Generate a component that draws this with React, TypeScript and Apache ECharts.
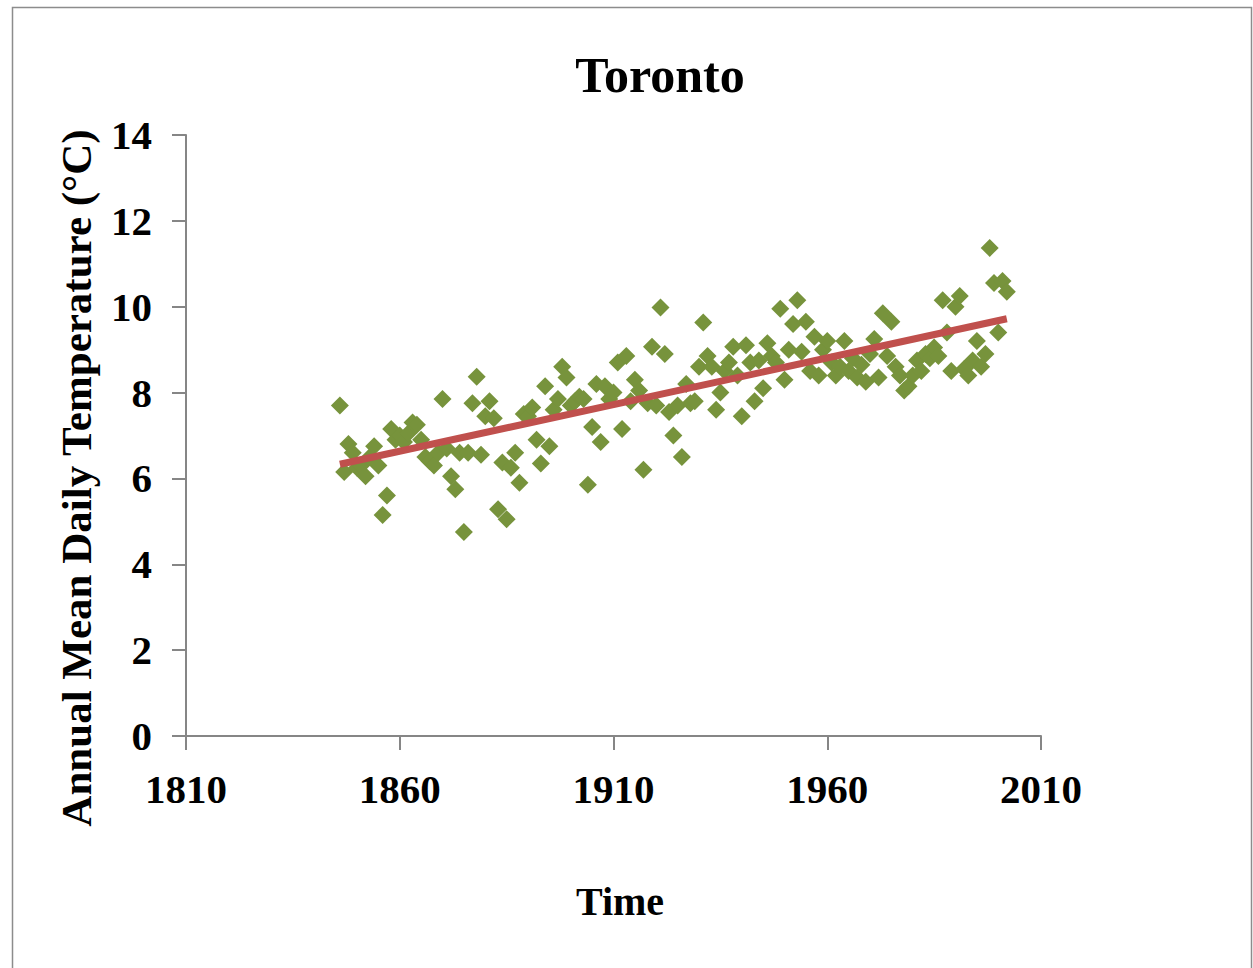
import React, { useEffect, useRef } from "react";
import * as echarts from "echarts";

const firstYear = 1846;
const temperatures: number[] = [
  // 1846-1855
  7.7, 6.15, 6.8, 6.6, 6.25, 6.3, 6.05, 6.5, 6.75, 6.3,
  // 1856-1865
  5.15, 5.6, 7.15, 6.9, 7.0, 6.85, 7.05, 7.3, 7.25, 6.9,
  // 1866-1875
  6.5, 6.4, 6.3, 6.6, 7.85, 6.7, 6.05, 5.75, 6.6, 4.75,
  // 1876-1885
  6.6, 7.75, 8.37, 6.55, 7.45, 7.8, 7.4, 5.28, 6.37, 5.05,
  // 1886-1895
  6.25, 6.6, 5.9, 7.5, 7.45, 7.65, 6.9, 6.35, 8.15, 6.75,
  // 1896-1905
  7.6, 7.85, 8.6, 8.35, 7.7, 7.8, 7.9, 7.85, 5.85, 7.2,
  // 1906-1915
  8.2, 6.85, 8.15, 7.85, 8.0, 8.7, 7.15, 8.85, 7.8, 8.3,
  // 1916-1925
  8.05, 6.2, 7.75, 9.07, 7.7, 9.98, 8.9, 7.55, 7.0, 7.7,
  // 1926-1935
  6.5, 8.2, 7.75, 7.8, 8.6, 9.63, 8.85, 8.6, 7.6, 8.0,
  // 1936-1945
  8.5, 8.7, 9.07, 8.4, 7.45, 9.1, 8.7, 7.8, 8.75, 8.1,
  // 1946-1955
  9.15, 8.85, 8.7, 9.95, 8.3, 9.0, 9.6, 10.15, 8.95, 9.65,
  // 1956-1965
  8.5, 9.3, 8.4, 9.0, 9.2, 8.7, 8.4, 8.6, 9.2, 8.5,
  // 1966-1975
  8.8, 8.35, 8.65, 8.25, 8.9, 9.25, 8.35, 9.85, 8.85, 9.65,
  // 1976-1985
  8.6, 8.4, 8.05, 8.15, 8.4, 8.75, 8.5, 8.9, 8.8, 9.05,
  // 1986-1995
  8.85, 10.15, 9.4, 8.5, 10.0, 10.25, 8.55, 8.4, 8.75, 9.2,
  // 1996-2002
  8.6, 8.9, 11.37, 10.55, 9.4, 10.6, 10.35,
];

const trendYears = [1846, 2002];
const trendValues = [6.33, 9.72];

const xTicks = [1810, 1860, 1910, 1960, 2010];
const yTicks = [0, 2, 4, 6, 8, 10, 12, 14];

const chartTitle = "Toronto";
const xAxisTitle = "Time";
const yAxisTitle = "Annual Mean Daily Temperature (°C)";

export default function App() {
  const ref = useRef<HTMLDivElement>(null);

  useEffect(() => {
    if (!ref.current) return;
    const chart = echarts.init(ref.current, undefined, { renderer: "svg" });
    const scatterData = temperatures.map((t, i) => [firstYear + i, t]);
    const trendData = trendYears.map((y, i) => [y, trendValues[i]]);
    const font = "'Liberation Serif', 'Times New Roman', serif";
    const axisColor = "#868686";

    chart.setOption({
      animation: false,
      backgroundColor: "#ffffff",
      textStyle: { fontFamily: font },
      graphic: [
        {
          type: "rect",
          shape: { x: 12.5, y: 7.5, width: 1239, height: 980 },
          style: { fill: "none", stroke: "#8c8c8c", lineWidth: 1.5 },
          silent: true,
        },
        {
          type: "text",
          x: 660,
          y: 75,
          style: {
            text: chartTitle,
            font: `bold 50px ${font}`,
            fill: "#000",
            textAlign: "center",
            textVerticalAlign: "middle",
          },
        },
        {
          type: "text",
          x: 620,
          y: 901,
          style: {
            text: xAxisTitle,
            font: `bold 40px ${font}`,
            fill: "#000",
            textAlign: "center",
            textVerticalAlign: "middle",
          },
        },
        {
          type: "text",
          x: 76,
          y: 478,
          rotation: Math.PI / 2,
          style: {
            text: yAxisTitle,
            font: `bold 43px ${font}`,
            fill: "#000",
            textAlign: "center",
            textVerticalAlign: "middle",
          },
        },
      ],
      grid: { left: 186, right: 212, top: 135, bottom: 232, containLabel: false },
      xAxis: {
        type: "value",
        min: xTicks[0],
        max: xTicks[xTicks.length - 1],
        interval: 50,
        axisLine: { show: true, lineStyle: { color: axisColor, width: 2 } },
        axisTick: { show: true, inside: false, length: 14, lineStyle: { color: axisColor, width: 2 } },
        splitLine: { show: false },
        axisLabel: {
          margin: 32,
          fontFamily: font,
          fontSize: 41,
          fontWeight: "bold",
          color: "#000",
          formatter: (v: number) => String(v),
        },
      },
      yAxis: {
        type: "value",
        min: yTicks[0],
        max: yTicks[yTicks.length - 1],
        interval: 2,
        axisLine: { show: true, lineStyle: { color: axisColor, width: 2 } },
        axisTick: { show: true, inside: false, length: 14, lineStyle: { color: axisColor, width: 2 } },
        splitLine: { show: false },
        axisLabel: {
          margin: 34,
          fontFamily: font,
          fontSize: 41,
          fontWeight: "bold",
          color: "#000",
        },
      },
      series: [
        {
          type: "scatter",
          data: scatterData,
          symbol: "diamond",
          symbolSize: 18,
          itemStyle: { color: "#77933C", opacity: 1 },
          z: 2,
        },
        {
          type: "line",
          data: trendData,
          showSymbol: false,
          symbol: "none",
          lineStyle: { color: "#C0504D", width: 7 },
          z: 3,
        },
      ],
    });

    return () => chart.dispose();
  }, []);

  return (
    <div
      ref={ref}
      style={{ position: "fixed", left: 0, top: 0, width: 1253, height: 968 }}
    />
  );
}
